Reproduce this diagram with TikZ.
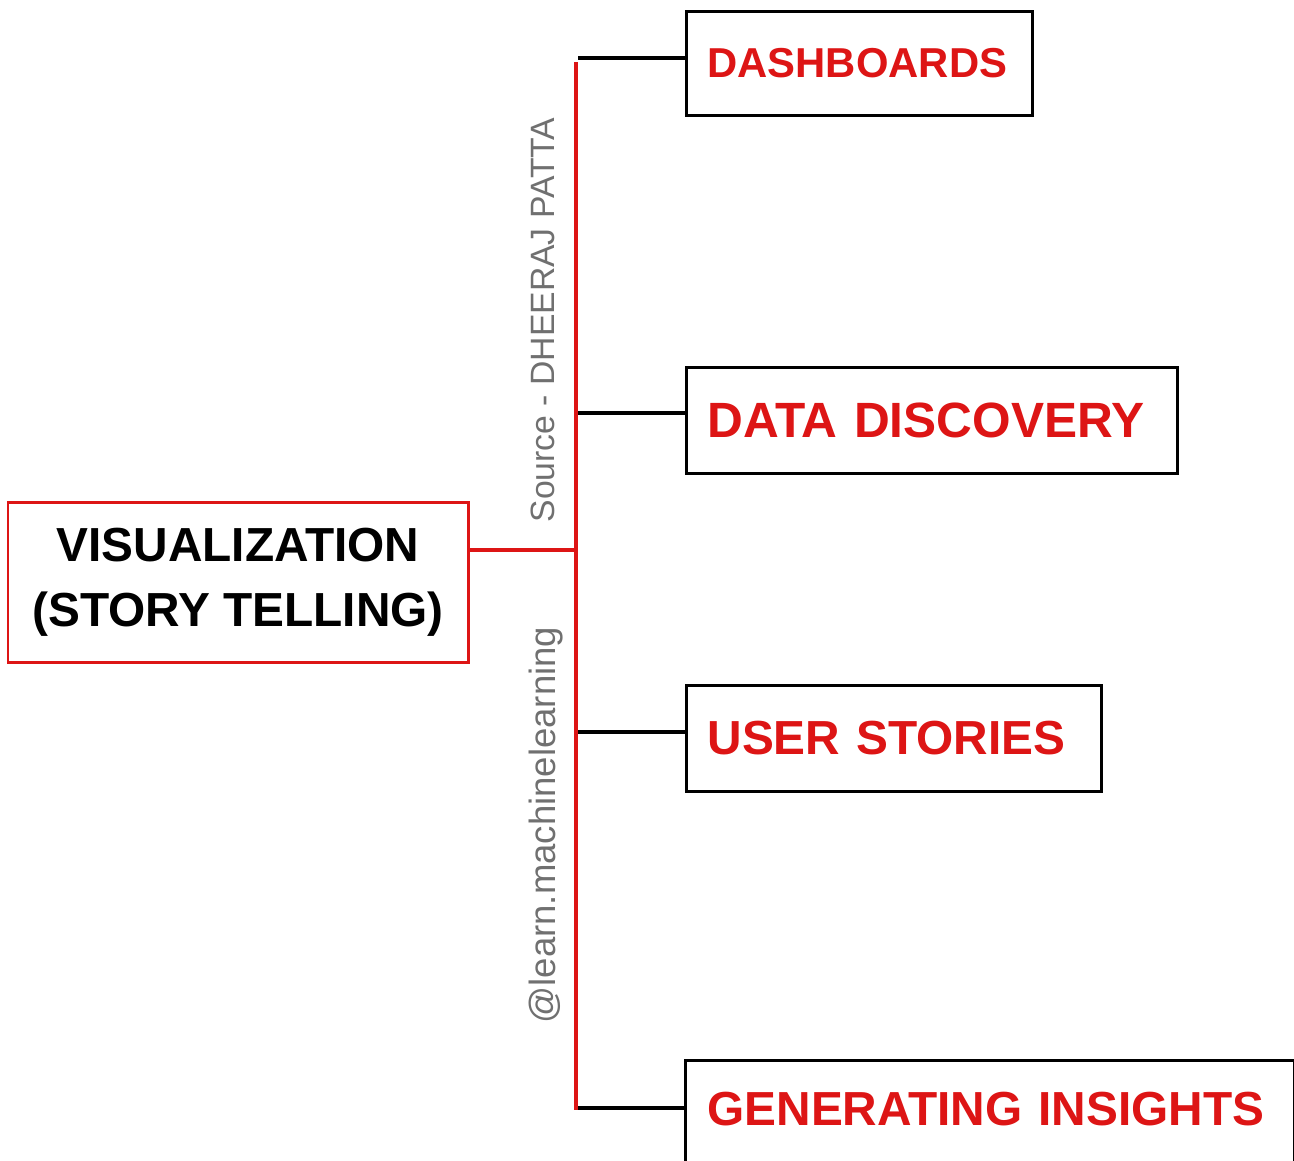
\documentclass[tikz,border=0pt]{standalone}
\usepackage{fontspec}
\setmainfont{Liberation Sans}
\definecolor{rd}{HTML}{DD1515}
\definecolor{gr}{HTML}{707070}
\begin{document}
\begin{tikzpicture}[x=0.02cm,y=-0.02cm,
  catbox/.style={draw=black, line width=1.7pt, fill=white, anchor=north west,
    inner xsep=0.42cm, inner ysep=0pt, align=left, text=rd,
    font=\bfseries\fontsize{27.2}{32}\selectfont},
  mainbox/.style={draw=rd, line width=1.7pt, fill=white, align=center,
    inner sep=0pt, font=\bfseries\fontsize{27.2}{36.9}\selectfont},
  redline/.style={draw=rd, line width=2.2pt},
  blackline/.style={draw=black, line width=2.2pt},
  wm/.style={text=gr, rotate=90, inner sep=0pt}]
\useasboundingbox (0,0) rectangle (1294,1160);
\clip (0,0) rectangle (1294,1160);
% main box
\node[mainbox, minimum width=460*0.02cm, minimum height=160*0.02cm] (vis) at (238,582)
  {VISUALIZATION\\(STORY TELLING)};
% trunk coordinates
\coordinate (ttop) at (576,62);
\coordinate (tbot) at (576,1110);
\coordinate (jv) at (576,550);
\coordinate (b1) at (578,58);
\coordinate (b2) at (578,413);
\coordinate (b3) at (578,732);
\coordinate (b4) at (578,1108);
% boxes
\node[catbox, text width=304*0.02cm, minimum height=104*0.02cm, font=\bfseries\fontsize{23.8}{28}\selectfont] (dash) at (685,10) {DASHBOARDS};
\node[catbox, text width=449*0.02cm, minimum height=106*0.02cm, font=\bfseries\fontsize{28.2}{32}\selectfont] (disc) at (685,366) {DATA DISCOVERY};
\node[catbox, text width=373*0.02cm, minimum height=106*0.02cm] (user) at (685,684) {USER STORIES};
\node[catbox, draw=none, fill=none, text width=564*0.02cm, minimum height=96*0.02cm] (gen) at (685,1060) {GENERATING INSIGHTS};
\draw[black, line width=1.7pt] ([yshift=-1cm]gen.south west) |- (gen.north east) -- ([yshift=-1cm]gen.south east);
% connectors
\draw[redline] (ttop) -- (tbot);
\draw[redline] (vis.east |- jv) -- (jv);
\draw[blackline] (b1) -- (b1 -| dash.west);
\draw[blackline] (b2) -- (b2 -| disc.west);
\draw[blackline] (b3) -- (b3 -| user.west);
\draw[blackline] (b4) -- (b4 -| gen.west);
% watermarks
\node[wm, font=\fontsize{19.2}{22}\selectfont] (src) at (543,320) {Source - DHEERAJ PATTA};
\node[wm, font=\fontsize{20.8}{24}\selectfont] (lm) at (546,825) {@learn.machinelearning};
\end{tikzpicture}
\end{document}
